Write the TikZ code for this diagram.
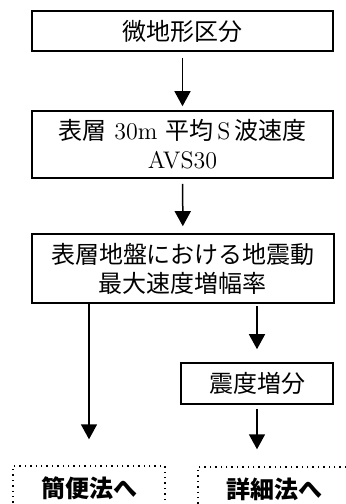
\documentclass[tikz,border=0pt]{standalone}
\usepackage{fontspec}
\newfontfamily\jp{Noto Sans CJK JP}
\usetikzlibrary{arrows.meta}

\begin{document}
\begin{tikzpicture}[x=0.5pt, y=-0.5pt,
        box/.style={draw, line width=0.8pt, inner sep=0pt, align=center, font=\fontsize{12}{14.5}\selectfont},
        dotbox/.style={draw, dotted, line width=0.7pt, inner sep=0pt, minimum width=76pt, minimum height=22pt, font=\fontsize{12}{14.5}\selectfont\jp\bfseries},
        arr/.style={-{Triangle[length=7.5pt, width=8pt]}, line width=0.75pt}]

        \useasboundingbox (0,0) rectangle (345,504);

        \node[box, minimum width=150.5pt, minimum height=20pt] (terrain) at (182.5,31) {{\jp 微地形区分}};

        \node[box, minimum width=150.5pt, minimum height=33.5pt] (avs) at (182.5,144.5) {{\jp 表層} 30m {\jp 平均}\,S\,{\jp 波速度}\\AVS30};

        \node[box, minimum width=151pt, minimum height=34.5pt] (amp) at (183,268.5) {{\jp 表層地盤における地震動}\\{\jp 最大速度増幅率}};

        \node[box, minimum width=76pt, minimum height=20.5pt] (intensity) at (257,383.5) {{\jp 震度増分}};

        \node[dotbox] (simple) at (89,488) {簡便法へ};

        \node[dotbox] (detail) at (274,489) {詳細法へ};

        \draw[arr, shorten <=3pt, shorten >=2pt] (terrain) -- (avs);

        \draw[arr, shorten <=2.5pt, shorten >=3.5pt] (avs) -- (amp);

        \draw[arr, shorten >=13pt] (amp.south -| simple.north) -- (simple.north);

        \draw[arr, shorten <=1pt, shorten >=6.5pt] (amp.south -| intensity.north) -- (intensity.north);

        \draw[arr, shorten <=2pt, shorten >=8.5pt] (intensity.south) -- (intensity.south |- detail.north);

    \end{tikzpicture}
\end{document}
